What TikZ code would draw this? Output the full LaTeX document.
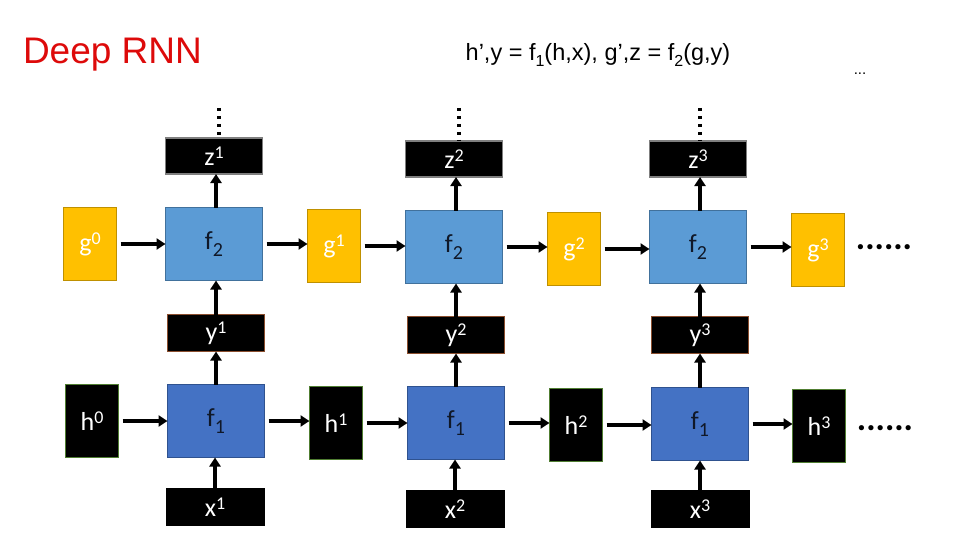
\documentclass[tikz,border=0pt]{standalone}
\usepackage{fontspec}
\setmainfont{Liberation Sans}
\newfontfamily\boxfont{Carlito}
\usetikzlibrary{arrows.meta}
\definecolor{fblueA}{HTML}{5B9BD5}
\definecolor{fblueAb}{HTML}{41719C}
\definecolor{fblueB}{HTML}{4472C4}
\definecolor{fblueBb}{HTML}{2F528F}
\definecolor{gyel}{HTML}{FFC000}
\definecolor{gyelb}{HTML}{BF9000}
\definecolor{hgreen}{HTML}{507E32}
\definecolor{ybrown}{HTML}{8B4E2E}
\definecolor{zgray}{HTML}{7F7F7F}
\definecolor{titlered}{HTML}{DD0A0A}
\definecolor{ftext}{HTML}{101828}
\newcommand{\mysup}[1]{\raisebox{0.27em}{\fontsize{18}{18}\selectfont #1}}
\newcommand{\mysub}[1]{\raisebox{-0.28em}{\fontsize{16}{16}\selectfont #1}}
\newcommand{\fsub}[1]{\raisebox{-0.3em}{\fontsize{20}{20}\selectfont #1}}
\begin{document}
\begin{tikzpicture}[x=1pt,y=-1pt,
  every node/.style={inner sep=0pt, outer sep=0pt, font=\boxfont\fontsize{26}{26}\selectfont},
  ftwo/.style={rectangle, fill=fblueA, draw=fblueAb, line width=1.5pt, minimum width=97pt, minimum height=73pt, text=ftext},
  fone/.style={rectangle, fill=fblueB, draw=fblueBb, line width=1.5pt, minimum width=97pt, minimum height=73pt, text=ftext},
  gbox/.style={rectangle, fill=gyel, draw=gyelb, line width=1.5pt, minimum width=53pt, minimum height=73pt, text=white},
  hbox/.style={rectangle, fill=black, draw=hgreen, line width=1.5pt, minimum width=53pt, minimum height=73pt, text=white},
  zbox/.style={rectangle, fill=black, draw=zgray, line width=1.5pt, minimum width=97pt, minimum height=36pt, text=white},
  ybox/.style={rectangle, fill=black, draw=ybrown, line width=1.5pt, minimum width=97pt, minimum height=37pt, text=white},
  xbox/.style={rectangle, fill=black, minimum width=99pt, minimum height=38pt, text=white},
  arr/.style={line width=3.5pt, -{Triangle[length=9pt,width=11pt]}},
  vdots/.style={line width=3.5pt, dash pattern=on 3.5pt off 4.5pt},
  hdots/.style={font=\boxfont\bfseries\fontsize{35}{35}\selectfont}
]
\useasboundingbox (0,0) rectangle (960,540);
% titles
\node[font=\fontsize{37}{37}\selectfont, text=titlered, anchor=west] (title) at (23,55) {Deep RNN};
\node[font=\fontsize{23.5}{23.5}\selectfont] (formula) at (598,55) {h’,y = f\mysub{1}(h,x), g’,z = f\mysub{2}(g,y)};
\node[font=\fontsize{15}{15}\selectfont] (topdots) at (860,74) {...};

% column 1
\node[zbox] (z1) at (214,156) {z\mysup{1}};
\node[ftwo] (f21) at (214,244) {f\fsub{2}};
\node[ybox] (y1) at (216,333) {y\mysup{1}};
\node[fone] (f11) at (216,421) {f\fsub{1}};
\node[xbox] (x1) at (215,507) {x\mysup{1}};
% column 2
\node[zbox] (z2) at (454,159) {z\mysup{2}};
\node[ftwo] (f22) at (454,247) {f\fsub{2}};
\node[ybox] (y2) at (456,335) {y\mysup{2}};
\node[fone] (f12) at (456,423) {f\fsub{1}};
\node[xbox] (x2) at (455,509) {x\mysup{2}};
% column 3
\node[zbox] (z3) at (698,159) {z\mysup{3}};
\node[ftwo] (f23) at (698,247) {f\fsub{2}};
\node[ybox] (y3) at (700,335) {y\mysup{3}};
\node[fone] (f13) at (700,424) {f\fsub{1}};
\node[xbox] (x3) at (700,509) {x\mysup{3}};
% g row
\node[gbox] (g0) at (90,244) {g\mysup{0}};
\node[gbox] (g1) at (334,246) {g\mysup{1}};
\node[gbox] (g2) at (574,249) {g\mysup{2}};
\node[gbox] (g3) at (818,250) {g\mysup{3}};
% h row
\node[hbox] (h0) at (92,421) {h\mysup{0}};
\node[hbox] (h1) at (336,423) {h\mysup{1}};
\node[hbox] (h2) at (576,425) {h\mysup{2}};
\node[hbox] (h3) at (819,426) {h\mysup{3}};
% trailing dots
\node[hdots] (gdots) at (884,247) {......};
\node[hdots] (hdotsn) at (885,428) {......};

% vertical dots above z
\coordinate (d1) at (219,108);
\coordinate (d2) at (459,108);
\coordinate (d3) at (700,108);
\draw[vdots] (d1) -- (z1.north -| d1);
\draw[vdots] (d2) -- (z2.north -| d2);
\draw[vdots] (d3) -- (z3.north -| d3);

% horizontal arrows
\foreach \a/\b in {g0/f21, f21/g1, g1/f22, f22/g2, g2/f23, f23/g3, h0/f11, f11/h1, h1/f12, f12/h2, h2/f13, f13/h3}
  \draw[arr, shorten <=4pt] (\a.east) -- (\b.west |- \a.east);
% vertical arrows
\foreach \c in {1,2,3}{
  \draw[arr] (x\c.north) -- (x\c.north |- f1\c.south);
  \draw[arr] (f1\c.north) -- (f1\c.north |- y\c.south);
  \draw[arr] (y\c.north) -- (y\c.north |- f2\c.south);
  \draw[arr] (y\c.north |- f2\c.north) -- (y\c.north |- z\c.south);
}
\end{tikzpicture}
\end{document}
